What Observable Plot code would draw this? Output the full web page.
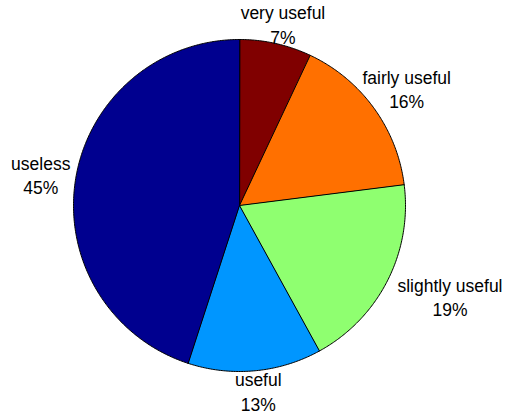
<!DOCTYPE html>
<html>
<head>
<meta charset="utf-8">
<script src="https://cdn.jsdelivr.net/npm/d3@7"></script>
<script src="https://cdn.jsdelivr.net/npm/@observablehq/plot@0.6"></script>
<style>
  html, body { margin: 0; padding: 0; background: #fff; }
</style>
</head>
<body>
<div id="chart"></div>
<script>
const categories = ["very useful", "fairly useful", "slightly useful", "useful", "useless"];
const percents = [7, 16, 19, 13, 45];
const colors = ["#800000", "#ff7000", "#8fff70", "#0096ff", "#00008f"];

const W = 511, H = 416;
const cx = 239, cy = 205, R = 166;
const FS = 17.5, LH = 1.4;
const FONT = "Liberation Sans, Arial, sans-serif";

const pie = d3.pie().sort(null).value(d => d.value)(categories.map((c, i) => ({label: c, value: percents[i]})));

const slicePts = [];
for (const s of pie) {
  slicePts.push({label: s.data.label, x: 0, y: 0});
  const n = Math.max(4, Math.ceil((s.endAngle - s.startAngle) / 0.01));
  for (let k = 0; k <= n; k++) {
    const a = s.startAngle + (s.endAngle - s.startAngle) * k / n;
    slicePts.push({label: s.data.label, x: Math.sin(a), y: Math.cos(a)});
  }
}

// label layout: start at 1.2 R, push away from the pie until no line overlaps it
const ctx = document.createElement("canvas").getContext("2d");
ctx.font = FS + "px " + FONT;
function overlaps(px, py, lines) {
  const n = lines.length;
  for (let i = 0; i < n; i++) {
    const w = ctx.measureText(lines[i]).width;
    const ly = py + (i - (n - 1) / 2) * FS * LH;
    const x0 = px - w / 2, x1 = px + w / 2, y0 = ly - FS * 0.5, y1 = ly + FS * 0.5;
    const qx = Math.max(x0, Math.min(0, x1)), qy = Math.max(y0, Math.min(0, y1));
    if (Math.hypot(qx, qy) < R + 6) return true;
  }
  return false;
}
const labels = pie.map(s => {
  const a = (s.startAngle + s.endAngle) / 2;
  const lines = [s.data.label, s.data.value + "%"];
  let px = 1.2 * R * Math.sin(a), py = -1.2 * R * Math.cos(a);
  const horiz = Math.abs(Math.sin(a)) > 0.7;
  let guard = 0;
  while (overlaps(px, py, lines) && guard++ < 200) {
    if (horiz) px += Math.sign(Math.sin(a)); else py += -Math.sign(Math.cos(a));
  }
  const half = (FS * (1 + (lines.length - 1) * LH)) / 2 + 5;
  py = Math.max(-cy + half - 3, Math.min(H - cy - half, py));
  return {text: lines.join("\n"), x: px / R, y: -py / R};
});

const chart = Plot.plot({
  width: W, height: H,
  margin: 0,
  x: {domain: [-cx / R, (W - cx) / R], range: [0, W], axis: null},
  y: {domain: [-(H - cy) / R, cy / R], range: [H, 0], axis: null},
  color: {domain: categories, range: colors},
  style: {fontFamily: FONT, background: "#fff"},
  marks: [
    Plot.line(slicePts, {x: "x", y: "y", z: "label", fill: "label", stroke: "black", strokeWidth: 1, curve: "linear-closed"}),
    Plot.text(labels, {x: "x", y: "y", text: "text", fontSize: FS, lineHeight: LH, textAnchor: "middle", lineAnchor: "middle", fill: "black"})
  ]
});
document.getElementById("chart").appendChild(chart);
</script>
</body>
</html>
